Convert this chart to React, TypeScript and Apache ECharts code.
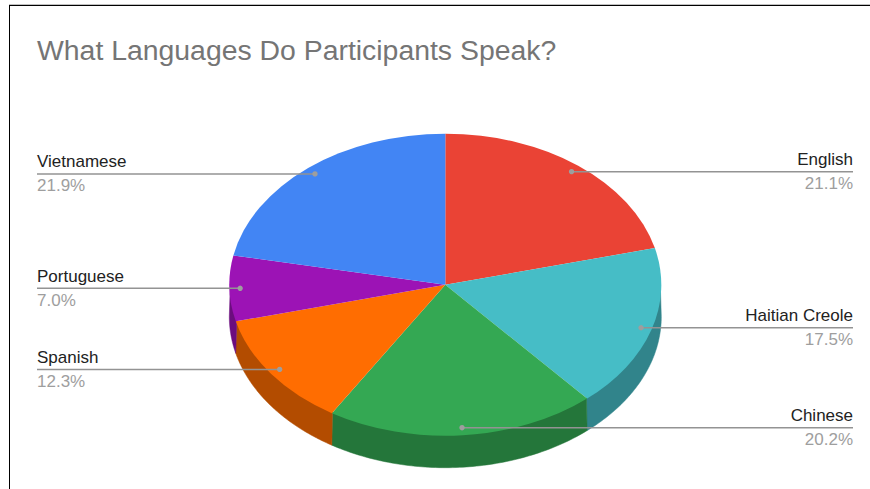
import React, { useEffect, useRef } from "react";
import * as echarts from "echarts";

// ---- data ----
const categories = ["English", "Haitian Creole", "Chinese", "Spanish", "Portuguese", "Vietnamese"];
const shares = [21.1, 17.5, 20.2, 12.3, 7.0, 21.9];
const topColors = ["#ea4335", "#46bdc6", "#34a853", "#ff6d01", "#9c13b5", "#4285f4"];
const sideColors = ["#a32f25", "#31848b", "#24763a", "#b34c00", "#6b0d7e", "#2e5dab"];
const titleText = "What Languages Do Participants Speak?";

const total = shares.reduce((s, v) => s + v, 0);
const starts: number[] = [];
shares.reduce((acc, v, i) => {
  starts[i] = acc;
  return acc + v;
}, 0);
const seriesData = shares.map((v, i) => ({ name: categories[i], value: [starts[i], v] }));

// ---- geometry / style ----
const CX = 445.3;
const CY = 284.7;
const RX = 216;
const RY = 151;
const DEPTH = 32;
const FONT = "'Liberation Sans', Arial, Helvetica, sans-serif";
const LEFT_X = 37;
const RIGHT_X = 853;

const pt = (t: number, rx: number, ry: number, dy = 0) => [CX + rx * Math.sin(t), CY - ry * Math.cos(t) + dy];

function renderSlice(params: any, api: any) {
  const i = params.dataIndex;
  const start = api.value(0) as number;
  const val = api.value(1) as number;
  const a0 = (start / total) * Math.PI * 2;
  const a1 = ((start + val) / total) * Math.PI * 2;
  const children: any[] = [];
  const w0 = Math.max(a0, Math.PI / 2);
  const w1 = Math.min(a1, (Math.PI * 3) / 2);
  if (w1 > w0) {
    const n = 80;
    const pts: number[][] = [];
    for (let k = 0; k <= n; k++) {
      const t = w0 + ((w1 - w0) * k) / n;
      pts.push(pt(t, RX - 1, RY - 1));
    }
    for (let k = n; k >= 0; k--) {
      const t = w0 + ((w1 - w0) * k) / n;
      pts.push(pt(t, RX, RY, DEPTH));
    }
    children.push({
      type: "polygon",
      z2: 0,
      shape: { points: pts },
      style: { fill: sideColors[i], stroke: sideColors[i], lineWidth: 0.5 },
    });
  }
  children.push({
    type: "group",
    x: CX,
    y: CY,
    scaleY: RY / RX,
    children: [
      {
        type: "sector",
        z2: 2,
        shape: {
          cx: 0,
          cy: 0,
          r: RX,
          r0: 0,
          startAngle: a0 - Math.PI / 2,
          endAngle: a1 - Math.PI / 2,
          clockwise: true,
        },
        style: { fill: topColors[i] },
      },
    ],
  });
  return { type: "group", children };
}

function renderLabel(params: any, api: any) {
  const i = params.dataIndex;
  const start = api.value(0) as number;
  const val = api.value(1) as number;
  const mid = ((start + val / 2) / total) * Math.PI * 2;
  const [dx, dy] = pt(mid, RX * 0.95, RY * 0.95);
  const left = Math.sin(mid) < 0;
  const endX = left ? LEFT_X : RIGHT_X;
  const pct = ((val / total) * 100).toFixed(1) + "%";
  return {
    type: "group",
    children: [
      {
        type: "line",
        shape: { x1: dx, y1: dy, x2: endX, y2: dy },
        style: { stroke: "#939393", lineWidth: 1.5 },
      },
      { type: "circle", shape: { cx: dx, cy: dy, r: 2.7 }, style: { fill: "#9e9e9e" } },
      {
        type: "text",
        style: {
          text: categories[i],
          x: endX,
          y: dy - 12,
          align: left ? "left" : "right",
          verticalAlign: "middle",
          fontSize: 17,
          fontFamily: FONT,
          fill: "#222222",
        },
      },
      {
        type: "text",
        style: {
          text: pct,
          x: endX,
          y: dy + 12,
          align: left ? "left" : "right",
          verticalAlign: "middle",
          fontSize: 17,
          fontFamily: FONT,
          fill: "#9e9e9e",
        },
      },
    ],
  };
}

export default function App() {
  const ref = useRef<HTMLDivElement>(null);
  useEffect(() => {
    if (!ref.current) return;
    const chart = echarts.init(ref.current, undefined, { renderer: "svg" });
    chart.setOption({
      animation: false,
      backgroundColor: "#ffffff",
      graphic: [
        { type: "line", shape: { x1: 9, y1: 4.5, x2: 870, y2: 4.5 }, style: { stroke: "#c0c0c0", lineWidth: 1 } },
        { type: "line", shape: { x1: 9, y1: 5.5, x2: 870, y2: 5.5 }, style: { stroke: "#000000", lineWidth: 1 } },
        { type: "line", shape: { x1: 9.5, y1: 5, x2: 9.5, y2: 489 }, style: { stroke: "#000000", lineWidth: 1 } },
        {
          type: "text",
          style: {
            text: titleText,
            x: 37,
            y: 50,
            verticalAlign: "middle",
            align: "left",
            fontSize: 28.4,
            fontFamily: FONT,
            fill: "#757575",
          },
        },
      ],
      series: [
        {
          type: "custom",
          coordinateSystem: "none",
          renderItem: renderSlice,
          data: seriesData,
          z: 2,
          silent: true,
        },
        {
          type: "custom",
          coordinateSystem: "none",
          renderItem: renderLabel,
          data: seriesData,
          z: 5,
          silent: true,
        },
      ],
    });
    return () => chart.dispose();
  }, []);
  return <div ref={ref} style={{ position: "fixed", left: 0, top: 0, width: 870, height: 489 }} />;
}
